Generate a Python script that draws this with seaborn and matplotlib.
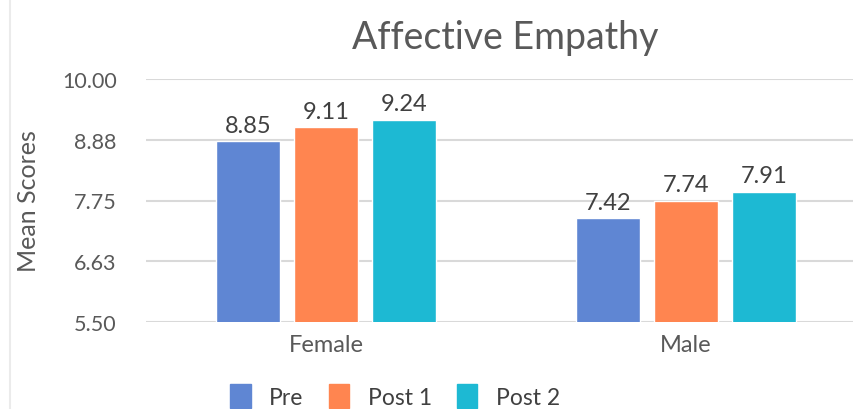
import matplotlib
matplotlib.use("Agg")
import matplotlib.pyplot as plt
import seaborn as sns
import pandas as pd

groups = ["Female", "Male"]
series = ["Pre", "Post 1", "Post 2"]
pre = [8.85, 7.42]
post1 = [9.11, 7.74]
post2 = [9.24, 7.91]
tick_values = [5.50, 6.625, 7.75, 8.875, 10.00]
tick_labels = ["5.50", "6.63", "7.75", "8.88", "10.00"]
colors = ["#5F86D3", "#FF8550", "#1DB9D3"]

rows = []
for s, vals in zip(series, [pre, post1, post2]):
    for g, v in zip(groups, vals):
        rows.append({"Group": g, "Series": s, "Score": v})
df = pd.DataFrame(rows)

sns.set_theme(style="white")
plt.rcParams['font.family'] = ['Lato', 'DejaVu Sans']

fig = plt.figure(figsize=(8.54, 4.10), dpi=100)
ax = fig.add_axes([146/854, 87/410, 720/854, 243/410])

sns.barplot(data=df, x="Group", y="Score", hue="Series", order=groups,
            hue_order=series, palette=colors, width=0.65, gap=0.19,
            saturation=1, ax=ax, legend=True, zorder=3)

ax.set_ylim(5.5, 10.0)
ax.set_xlim(-0.5, 1.5)
ax.set_yticks(tick_values)
ax.set_yticklabels(tick_labels)
ax.yaxis.grid(True, color="#D9D9D9", linewidth=1.5, zorder=0)
ax.set_axisbelow(True)
for sp in ax.spines.values():
    sp.set_visible(False)
ax.tick_params(axis="both", length=0, colors="#595959")
ax.tick_params(axis="y", pad=21, labelsize=15.5)
ax.tick_params(axis="x", pad=9, labelsize=17)
for lbl in ax.get_yticklabels():
    lbl.set_fontsize(15.5)
for lbl in ax.get_xticklabels():
    lbl.set_fontsize(17)
ax.set_xlabel("")
ax.set_ylabel("Mean Scores", fontsize=18, color="#595959")
ax.yaxis.set_label_coords(-106/720, 0.5)

for cont in ax.containers:
    ax.bar_label(cont, fmt="%.2f", padding=4, fontsize=17, color="#404040")

ax.legend_.remove()
handles = [plt.Rectangle((0, 0), 1, 1, color=c) for c in colors]
fig.legend(handles, series, loc="center", bbox_to_anchor=(395/854, 1 - 397/410),
           ncol=3, frameon=False, fontsize=16.5, labelcolor="#404040",
           handlelength=0.9, handleheight=1.3, columnspacing=1.1, handletextpad=0.8)

fig.text(505/854, 1 - 38/410, "Affective Empathy", ha="center", va="center",
         fontsize=27, color="#595959")

fig.add_artist(plt.Line2D([10/854, 10/854], [0, 1], color="#EBEBEB", linewidth=1.5))

fig.savefig("out.png", dpi=100)
